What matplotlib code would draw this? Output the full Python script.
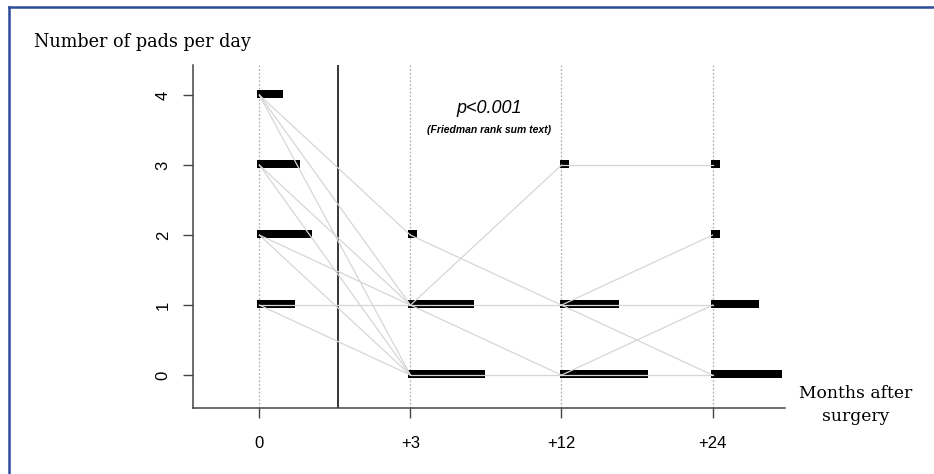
import numpy as np
import matplotlib.pyplot as plt
from matplotlib.lines import Line2D

# time points and pad levels
time_labels = ["0", "+3", "+12", "+24"]
pads = [0, 1, 2, 3, 4]

# number of patients at each pad level (index = pads per day)
n_month0 = [0, 6, 9, 7, 4]
n_month3 = [13, 11, 1, 0, 0]
n_month12 = [15, 10, 0, 1, 0]
n_month24 = [12, 8, 1, 1, 0]
counts = [n_month0, n_month3, n_month12, n_month24]

# patient paths between consecutive time points (from level, to level)
links_0_3 = [(4, 2), (4, 1), (4, 0), (3, 1), (3, 0), (2, 1), (2, 0), (1, 1), (1, 0)]
links_3_12 = [(2, 1), (1, 3), (1, 1), (1, 0), (0, 0)]
links_12_24 = [(3, 3), (1, 2), (1, 1), (1, 0), (0, 1), (0, 0)]
links = [links_0_3, links_3_12, links_12_24]

fig = plt.figure(figsize=(9.34, 4.74), dpi=100)
ax = fig.add_axes([0.2066, 0.1392, 0.6339, 0.7237])
sans = ["Liberation Sans", "DejaVu Sans"]
serif = ["DejaVu Serif"]

# dotted guides at each time point
for i in range(len(time_labels)):
    ax.axvline(i, color="#b0b0b0", ls=(0, (1.5, 1.5)), lw=0.9, zorder=1)
ax.axvline(0.52, color="black", lw=1.1, zorder=1)

# bars: length proportional to number of patients
unit = 5.64 / 151
pad = 3.36 / 151
for i, c in enumerate(counts):
    c = np.array(c)
    keep = c > 0
    ax.barh(np.array(pads)[keep] + 0.012, c[keep] * unit + pad, left=i - 0.013,
            height=0.115, color="black", zorder=2)

# connecting lines drawn on top
for i, seg in enumerate(links):
    for a, b in seg:
        ax.plot([i, i + 1], [a, b], color="#d6d6d6", lw=0.9, zorder=3)

ax.text(1.52, 3.81, "p<0.001", style="italic", fontsize=13, family=sans,
        ha="center", va="center")
ax.text(1.52, 3.50, "(Friedman rank sum text)", style="italic", weight="bold",
        fontsize=7.5, family=sans, ha="center", va="center")

ax.set_xlim(-0.44, 3.48)
ax.set_ylim(-0.47, 4.43)
ax.set_xticks(range(len(time_labels)))
ax.set_xticklabels(time_labels, family=sans, fontsize=12)
ax.set_yticks(pads)
ax.set_yticklabels([str(p) for p in pads], family=sans, fontsize=12,
                   rotation=90, va="center")
ax.tick_params(length=7, width=1, color="#444444", pad=13)
ax.tick_params(axis="y", pad=9)
for s in ["top", "right"]:
    ax.spines[s].set_visible(False)
for s in ["left", "bottom"]:
    ax.spines[s].set_color("#444444")
    ax.spines[s].set_linewidth(1.1)

fig.text(34 / 934, 1 - 42 / 474, "Number of pads per day", family=serif,
         fontsize=12.7, ha="left", va="center")
fig.text(856 / 934, 1 - 405 / 474, "Months after\nsurgery", family=serif,
         fontsize=12.3, ha="center", va="center", linespacing=1.45)

# blue frame on top and left edges
fig.add_artist(Line2D([8.5 / 934, 1], [1 - 6.5 / 474] * 2, color="#2d4b9b", lw=1.8))
fig.add_artist(Line2D([8.5 / 934] * 2, [0, 1 - 6.5 / 474], color="#2d4b9b", lw=1.8))

fig.savefig("out.png", dpi=100)
